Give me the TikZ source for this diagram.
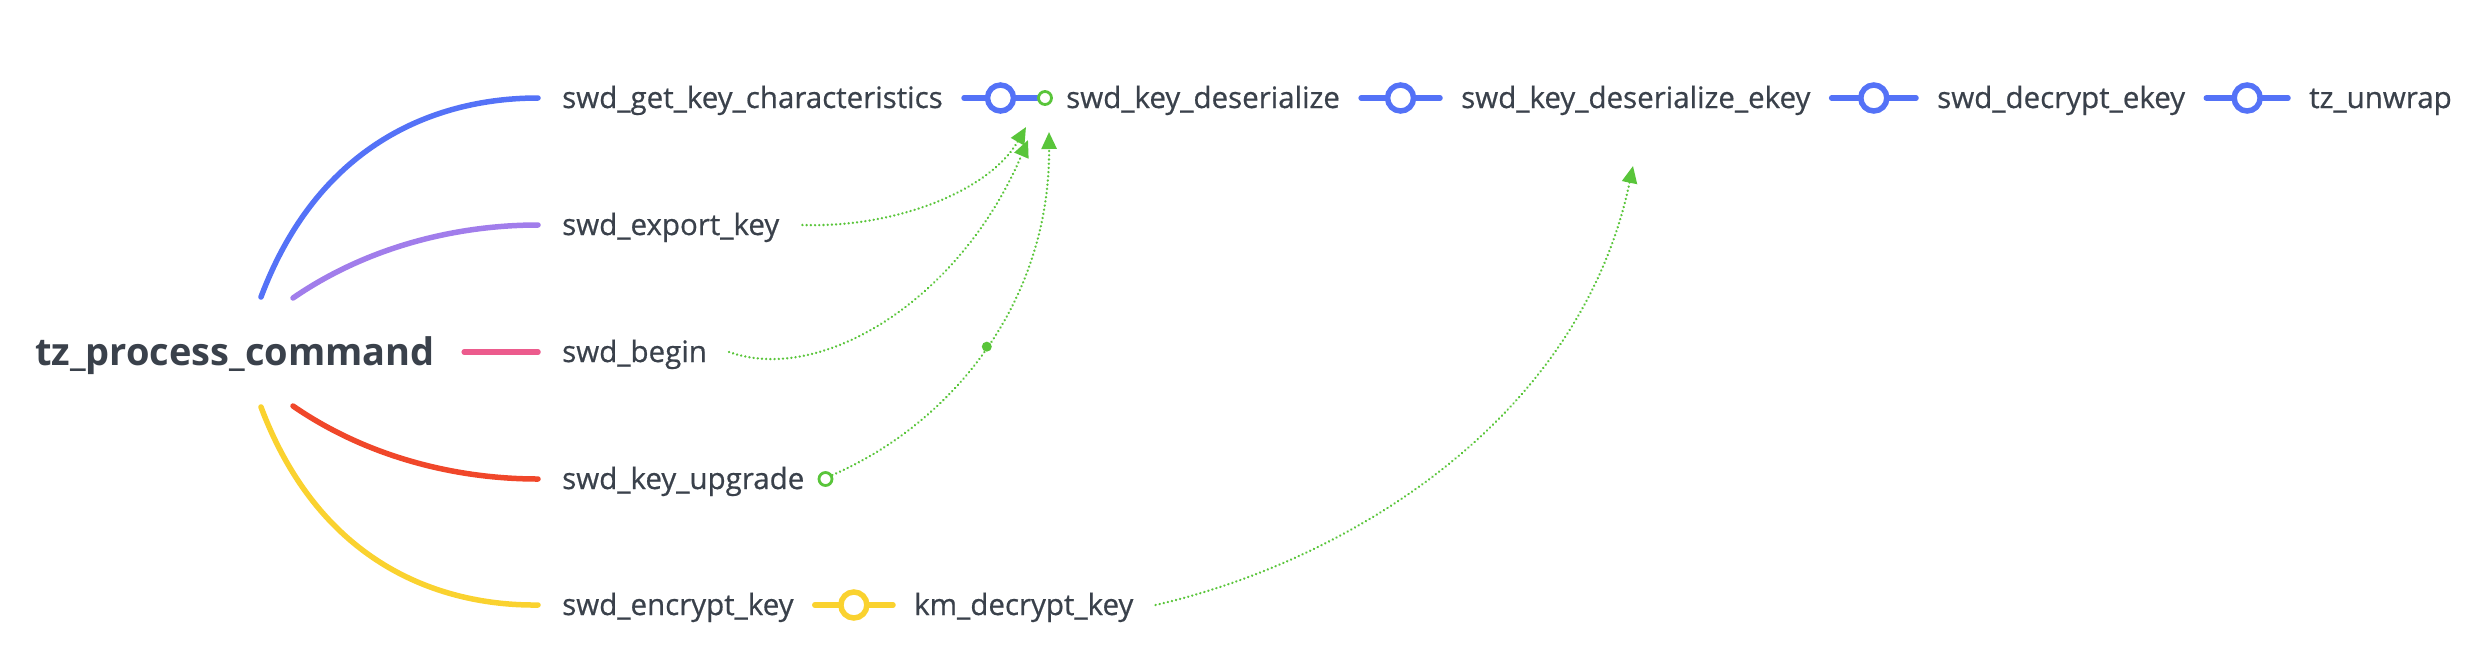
\documentclass[tikz,border=0pt]{standalone}
\usepackage{fontspec}
\setmainfont{Open Sans}
\newfontfamily\topicfont{Open Sans}[FakeBold=0.6]
\definecolor{cBlue}{HTML}{5472F7}
\definecolor{cPurple}{HTML}{A17DEB}
\definecolor{cPink}{HTML}{EC5B8D}
\definecolor{cRed}{HTML}{F0472A}
\definecolor{cYellow}{HTML}{FAD22F}
\definecolor{cGreen}{HTML}{59C53A}
\definecolor{cText}{HTML}{3A414B}
\usetikzlibrary{arrows.meta}
\usetikzlibrary{calc}

\tikzset{
  topic/.style={anchor=west, inner sep=0pt, text height=22pt, text depth=2pt, text=cText, font=\topicfont\fontsize{29.5}{32}\selectfont},
  roottopic/.style={topic, text height=28pt, font=\fontsize{38}{42}\selectfont\bfseries},
  branch/.style={line width=5.5pt, line cap=round},
  ring/.style={circle, draw=#1, line width=5.5pt, fill=white, minimum size=26pt, inner sep=0pt},
  smallring/.style={circle, draw=cGreen, line width=2.8pt, fill=white, minimum size=13pt, inner sep=0pt},
  link/.style={cGreen, line width=2.6pt, dash pattern=on 0.01pt off 4.2pt, line cap=round, -{Triangle[length=17pt,width=15pt]}},
}

\begin{document}
\begin{tikzpicture}[x=1pt,y=-1pt]
		\useasboundingbox (0,0) rectangle (2467,657);
		\node[roottopic] (tzproc) at (35,352) {tz\_process\_command};
		\node[topic] (getkc) at (562,98) {swd\_get\_key\_characteristics};
		\node[topic] (exportkey) at (562,225) {swd\_export\_key};
		\node[topic] (begin) at (562,352) {swd\_begin};
		\node[topic] (upgrade) at (562,479) {swd\_key\_upgrade};
		\node[topic] (encrypt) at (562,605) {swd\_encrypt\_key};
		\node[topic] (deser) at (1066,98) {swd\_key\_deserialize};
		\node[topic] (deserekey) at (1461,98) {swd\_key\_deserialize\_ekey};
		\node[topic] (decekey) at (1937,98) {swd\_decrypt\_ekey};
		\node[topic] (unwrap) at (2309,98) {tz\_unwrap};
		\node[topic] (kmdec) at (914,605) {km\_decrypt\_key};
		% branches out of the root
		\coordinate (j1) at (261,297);
		\coordinate (j2) at (293,298);
		\coordinate (j3) at (293,406);
		\coordinate (j4) at (261,407);
		\draw[branch, cBlue] (j1) .. controls (320,140) and (440,98) .. ([xshift=-24pt]getkc.west);
		\draw[branch, cPurple] (j2) .. controls (370,245) and (460,225) .. ([xshift=-24pt]exportkey.west);
		\draw[branch, cPink] ([xshift=29pt]tzproc.east) -- ([xshift=-24pt]begin.west);
		\draw[branch, cRed] (j3) .. controls (370,459) and (460,479) .. ([xshift=-24pt]upgrade.west);
		\draw[branch, cYellow] (j4) .. controls (320,564) and (440,606) .. ([xshift=-24pt]encrypt.west);
		% call chains
		\foreach \a/\b/\s in {getkc/deser/29, deser/deserekey/21, deserekey/decekey/21, decekey/unwrap/21}
			\draw[branch, cBlue] ([xshift=21pt]\a.east) -- ([xshift=-\s pt]\b.west) node[midway, ring=cBlue] {};
		\draw[branch, cYellow] ([xshift=21pt]encrypt.east) -- ([xshift=-21pt]kmdec.west) node[midway, ring=cYellow] {};
		\node[smallring] (deserin) at ([xshift=-21pt]deser.west) {};
		\node[smallring] (upout) at ([xshift=21pt]upgrade.east) {};
		% cross links
		\draw[link] ($(exportkey.east)+(23,0)$) .. controls +(95,3) and +(-36,63) .. ($(deser.west)+(-40,29)$);
		\draw[link] ($(begin.east)+(22,0)$) .. controls +(92,33) and +(-68,160) .. ($(deser.west)+(-38,42)$);
		\draw[link] (upout.30) .. controls +(122,-53) and +(1,168) .. ($(deser.west)+(-17,34)$)
			node[pos=0.5, circle, fill=cGreen, inner sep=0pt, minimum size=10pt] (mid) {};
		\draw[link] ($(kmdec.east)+(22,0)$) .. controls +(192,-44) and +(-53,254) .. ($(deserekey.west)+(172,68)$);
\end{tikzpicture}
\end{document}
